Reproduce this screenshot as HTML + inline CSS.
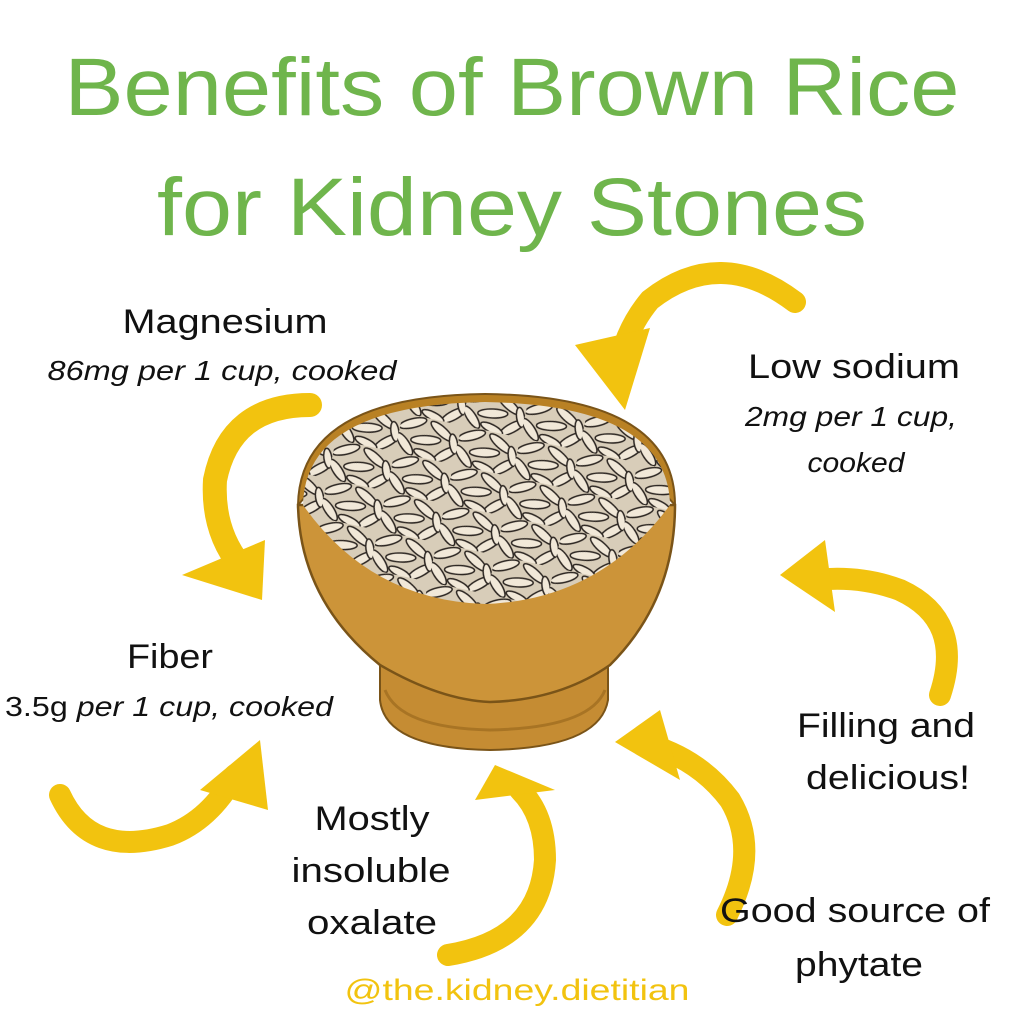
<!DOCTYPE html>
<html><head><meta charset="utf-8"><style>
html,body{margin:0;padding:0;background:#fff}
svg{display:block}
text{font-family:"Liberation Sans",sans-serif}
</style></head><body>
<svg width="1024" height="1024" viewBox="0 0 1024 1024" xmlns="http://www.w3.org/2000/svg">
<defs>
<pattern id="rice" width="60" height="40" patternUnits="userSpaceOnUse" patternTransform="rotate(12)">
<rect width="60" height="40" fill="#d8cdb9"/>
<g fill="#f1e8d8" stroke="#2a2420" stroke-width="1.5">
<ellipse cx="12" cy="8" rx="14" ry="4.5" transform="rotate(-25 12 8)"/>
<ellipse cx="42" cy="10" rx="14" ry="4.5" transform="rotate(30 42 10)"/>
<ellipse cx="28" cy="22" rx="15" ry="4.5" transform="rotate(-10 28 22)"/>
<ellipse cx="8" cy="30" rx="13" ry="4.5" transform="rotate(45 8 30)"/>
<ellipse cx="50" cy="32" rx="14" ry="4.5" transform="rotate(-40 50 32)"/>
<ellipse cx="30" cy="37" rx="12" ry="4" transform="rotate(15 30 37)"/>
<ellipse cx="56" cy="20" rx="10" ry="4" transform="rotate(70 56 20)"/>
</g>
</pattern>
<clipPath id="bowlTop"><path d="M303 505 Q305 405 485 402 Q668 405 670 505 Q600 600 485 604 Q370 600 303 505Z"/></clipPath>
</defs>

<!-- title -->
<text x="512" y="115" text-anchor="middle" font-size="82" fill="#6fb54c" textLength="895" lengthAdjust="spacingAndGlyphs">Benefits of Brown Rice</text>
<text x="512" y="235" text-anchor="middle" font-size="82" fill="#6fb54c" textLength="710" lengthAdjust="spacingAndGlyphs">for Kidney Stones</text>

<!-- bowl -->
<path d="M380 650 L380 700 Q385 748 490 750 Q600 748 608 700 L608 650Z" fill="#c58c33" stroke="#7a5418" stroke-width="2"/>
<path d="M385 690 Q400 728 490 730 Q590 728 605 690" fill="none" stroke="#a87424" stroke-width="3"/>
<path d="M298 505 Q300 600 380 665 Q440 700 490 702 Q560 700 610 665 Q675 600 675 505Z" fill="#cc9439" stroke="#7a5418" stroke-width="2.5"/>
<path d="M298 505 Q300 396 485 394 Q675 396 675 505 Q600 420 485 418 Q370 420 298 505Z" fill="#b98124" stroke="#7a5418" stroke-width="2"/>
<g clip-path="url(#bowlTop)"><rect x="290" y="390" width="400" height="230" fill="url(#rice)"/></g>

<!-- arrows -->
<g fill="none" stroke="#f2c30f" stroke-linecap="round">
<path d="M795 302 Q720 245 650 300 Q625 330 618 370" stroke-width="22"/>
<path d="M310 405 Q230 405 215 480 Q212 530 240 565" stroke-width="24"/>
<path d="M60 795 Q90 860 170 835 Q210 820 235 775" stroke-width="22"/>
<path d="M448 955 Q540 940 545 860 Q545 815 520 790" stroke-width="22"/>
<path d="M727 915 Q760 850 730 800 Q700 760 650 745" stroke-width="22"/>
<path d="M940 695 Q965 620 900 590 Q860 575 815 580" stroke-width="22"/>
</g>
<g fill="#f2c30f">
<polygon points="575,345 650,328 625,410"/>
<polygon points="182,575 265,540 262,600"/>
<polygon points="200,790 260,740 268,810"/>
<polygon points="475,800 555,790 495,765"/>
<polygon points="660,710 680,780 615,742"/>
<polygon points="825,540 835,612 780,575"/>
</g>

<!-- labels -->
<g fill="#111" text-anchor="middle">
<text x="225" y="333" font-size="34" textLength="205" lengthAdjust="spacingAndGlyphs">Magnesium</text>
<text x="222" y="380" font-size="28" font-style="italic" textLength="349" lengthAdjust="spacingAndGlyphs">86mg per 1 cup, cooked</text>
<text x="854" y="378" font-size="34" textLength="212" lengthAdjust="spacingAndGlyphs">Low sodium</text>
<text x="851" y="426" font-size="28" font-style="italic" textLength="212" lengthAdjust="spacingAndGlyphs">2mg per 1 cup,</text>
<text x="856" y="472" font-size="28" font-style="italic" textLength="97" lengthAdjust="spacingAndGlyphs">cooked</text>
<text x="170" y="668" font-size="34" textLength="86" lengthAdjust="spacingAndGlyphs">Fiber</text>
<text x="169" y="716" font-size="28" textLength="328" lengthAdjust="spacingAndGlyphs">3.5g <tspan font-style="italic">per 1 cup, cooked</tspan></text>
<text x="886" y="737" font-size="34" textLength="178" lengthAdjust="spacingAndGlyphs">Filling and</text>
<text x="888" y="789" font-size="34" textLength="164" lengthAdjust="spacingAndGlyphs">delicious!</text>
<text x="372" y="830" font-size="34" textLength="115" lengthAdjust="spacingAndGlyphs">Mostly</text>
<text x="371" y="882" font-size="34" textLength="159" lengthAdjust="spacingAndGlyphs">insoluble</text>
<text x="372" y="934" font-size="34" textLength="130" lengthAdjust="spacingAndGlyphs">oxalate</text>
<text x="855" y="922" font-size="34" textLength="270" lengthAdjust="spacingAndGlyphs">Good source of</text>
<text x="859" y="976" font-size="34" textLength="128" lengthAdjust="spacingAndGlyphs">phytate</text>
</g>
<text x="517" y="1000" text-anchor="middle" font-size="30" fill="#f2c30f" textLength="345" lengthAdjust="spacingAndGlyphs">@the.kidney.dietitian</text>
</svg>
</body></html>
